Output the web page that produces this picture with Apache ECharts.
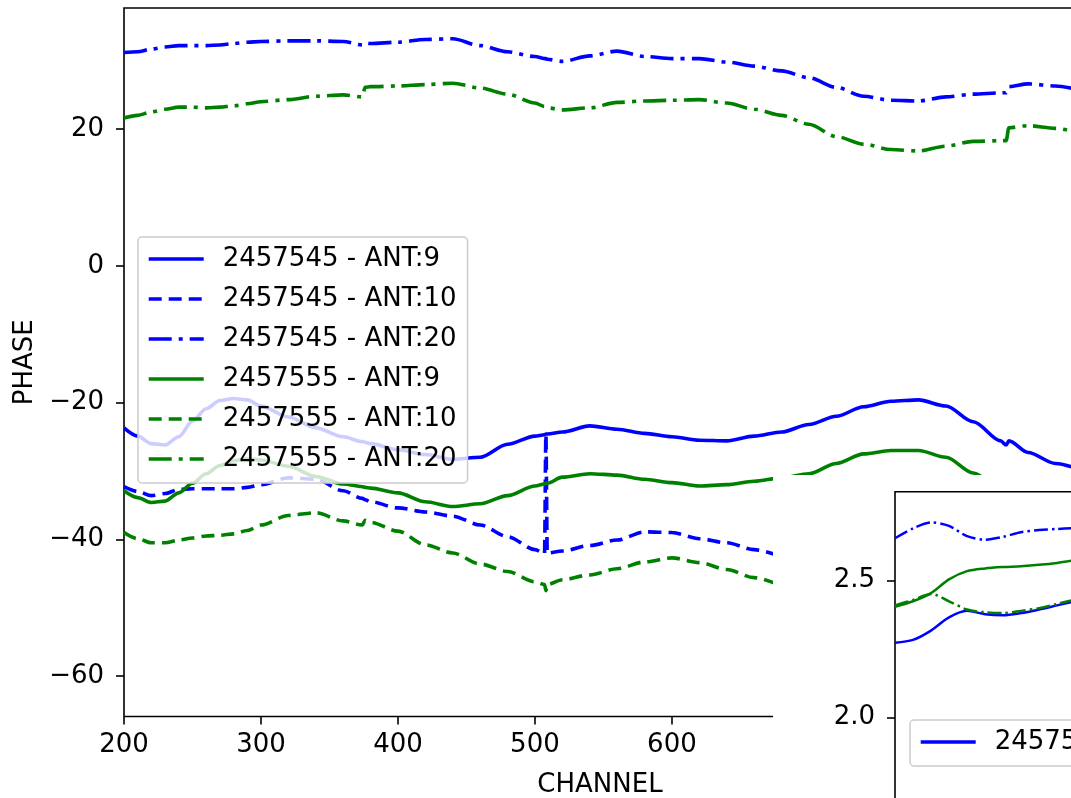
<!DOCTYPE html>
<html><head><meta charset="utf-8">
<script src="https://cdn.jsdelivr.net/npm/echarts@6/dist/echarts.min.js"></script>
<style>html,body{margin:0;padding:0;background:#fff}#c{width:1071px;height:798px}</style>
</head><body><div id="c"></div><script>
// ---- main panel data (channel, phase) ----
const channels = [200,210,220,230,240,250,260,270,280,290,300,320,340,360,374,376,380,400,420,440,460,480,500,507,508,509,520,540,560,580,600,620,640,660,680,700,720,740,760,780,800,820,840,844,846,860,880,900];
const b9  = [-23.7,-24.9,-26.0,-26.2,-25.0,-22.7,-20.9,-19.7,-19.4,-19.6,-20.5,-22.1,-23.7,-25.0,-25.7,-25.8,-26.0,-26.9,-27.6,-28.3,-28.0,-26.1,-24.9,-24.7,-24.6,-24.6,-24.3,-23.4,-23.9,-24.5,-25.0,-25.5,-25.6,-24.9,-24.3,-23.2,-22.0,-20.6,-19.8,-19.6,-20.5,-22.8,-25.6,-26.2,-25.6,-27.3,-28.9,-30.0];
const b10 = [-32.3,-33.0,-33.6,-33.3,-32.7,-32.6,-32.6,-32.6,-32.6,-32.4,-32.0,-31.0,-31.2,-32.9,-34.0,-34.2,-34.5,-35.4,-36.0,-36.6,-37.9,-39.6,-41.5,-42.1,-24.7,-42.0,-41.7,-40.9,-40.1,-38.9,-39.0,-39.9,-40.5,-41.5,-42.5,null,null,null,null,null,null,null,null,null,null,null,null,null];
const b20 = [31.2,31.3,31.7,32.0,32.2,32.2,32.2,32.3,32.5,32.7,32.8,32.9,32.9,32.8,32.3,32.6,32.5,32.7,33.1,33.2,32.2,31.3,30.6,30.3,30.3,30.2,29.9,30.7,31.4,30.6,30.3,30.3,29.8,29.2,28.5,27.5,26.1,24.8,24.2,24.1,24.7,25.1,25.3,25.3,26.2,26.6,26.3,25.6];
const g9  = [-32.9,-33.9,-34.6,-34.4,-33.2,-31.8,-30.4,-29.2,-28.5,-28.2,-28.4,-29.3,-30.8,-31.9,-32.3,-32.4,-32.5,-33.2,-34.5,-35.2,-34.8,-33.6,-32.2,-31.9,-31.8,-31.8,-30.9,-30.4,-30.6,-31.2,-31.7,-32.2,-32.0,-31.5,-31.0,-30.4,-28.9,-27.5,-27.0,-27.0,-28.0,-30.3,-33.5,null,null,null,null,null];
const g10 = [-39.0,-39.9,-40.5,-40.5,-40.1,-39.8,-39.5,-39.4,-39.2,-38.7,-37.9,-36.5,-36.1,-37.3,-37.9,-37.2,-37.5,-38.8,-40.8,-42.0,-43.6,-44.7,-46.2,-46.6,-47.5,-46.6,-45.9,-45.2,-44.3,-43.3,-42.7,-43.4,-44.4,-45.6,-46.8,null,null,null,null,null,null,null,null,null,null,null,null,null];
const g20 = [21.6,22.0,22.5,22.9,23.2,23.2,23.1,23.2,23.4,23.7,24.0,24.3,24.8,25.0,24.7,26.1,26.2,26.3,26.5,26.7,26.0,25.1,23.8,23.3,23.2,23.1,22.8,23.1,23.9,24.1,24.2,24.3,23.8,22.9,22.0,20.7,18.9,17.8,17.0,16.8,17.5,18.2,18.3,18.3,20.2,20.5,20.1,19.3];
const xTicks = [200,300,400,500,600,700,800];
const yTicks = [-60,-40,-20,0,20];
// ---- inset panel data ----
const insetX   = [0,3,6,9,12,15,18,21,24,27,30];
const inB9  = [2.274,2.284,2.318,2.366,2.390,2.378,2.374,2.382,2.395,2.410,2.425];
const inB20 = [2.655,2.691,2.713,2.700,2.663,2.650,2.660,2.677,2.685,2.689,2.692];
const inG9  = [2.405,2.425,2.455,2.505,2.535,2.545,2.550,2.553,2.558,2.565,2.575];
const inG20 = [2.410,2.430,2.452,2.425,2.395,2.385,2.382,2.390,2.400,2.415,2.432];
const insetYTicks = [1.5,2.0,2.5];
const names = ['2457545 - ANT:9','2457545 - ANT:10','2457545 - ANT:20','2457555 - ANT:9','2457555 - ANT:10','2457555 - ANT:20'];

const BLUE='#0000ff', GREEN='#008000';
const DASH=[13,7], DASHDOT=[23,7,4,7];
const FONT='DejaVu Sans', FS=26;
const pairs=(xs,ys)=>xs.map((x,i)=>[x,ys[i]]);
const minus=v=>String(v).replace('-','\u2212');

function mainSeries(name,color,type,vals){
  return {name,type:'line',xAxisIndex:0,yAxisIndex:0,data:pairs(channels,vals),symbol:'none',showSymbol:false,
    smooth:0.3,smoothMonotone:'x',connectNulls:false,z:2,
    lineStyle:{color,width:3.6,type},itemStyle:{color}};
}
function insetSeries(name,color,type,vals){
  return {name,type:'line',xAxisIndex:1,yAxisIndex:1,data:pairs(insetX,vals),symbol:'none',showSymbol:false,
    smooth:0.3,z:60,lineStyle:{color,width:2.5,type},itemStyle:{color}};
}
const legendCommon={orient:'vertical',itemWidth:55,itemHeight:26,itemGap:14,padding:[9,11,11,9],
  backgroundColor:'rgba(255,255,255,0.8)',borderColor:'#cccccc',borderWidth:1.5,borderRadius:4,
  selectedMode:false,itemStyle:{opacity:0,borderWidth:0},lineStyle:{width:3.4},
  textStyle:{fontFamily:FONT,fontSize:FS,color:'#000',padding:[0,0,0,14]},data:names};

const chart=echarts.init(document.getElementById('c'),null,{renderer:'canvas'});
chart.setOption({
  animation:false,
  backgroundColor:'#fff',
  textStyle:{fontFamily:FONT},
  grid:[
    {left:124,top:8,width:952,height:708.5,show:true,borderColor:'#000',borderWidth:1.6,backgroundColor:'transparent',z:0,outerBoundsMode:'none',containLabel:false},
    {left:895,top:491.7,width:600,height:363,show:true,borderColor:'#000',borderWidth:1.6,backgroundColor:'#fff',z:55,outerBoundsMode:'none',containLabel:false}
  ],
  graphic:[{type:'rect',shape:{x:773,y:475,width:400,height:400},style:{fill:'#fff'},z:50,silent:true}],
  xAxis:[
    {gridIndex:0,type:'value',min:200,max:895,name:'CHANNEL',nameLocation:'middle',nameGap:56,
     nameTextStyle:{fontFamily:FONT,fontSize:FS,color:'#000'},
     axisLine:{show:false,onZero:false},splitLine:{show:false},
     axisTick:{show:true,length:8,lineStyle:{color:'#000',width:1.6},customValues:xTicks},
     axisLabel:{fontFamily:FONT,fontSize:FS,color:'#000',margin:16,customValues:xTicks,formatter:minus}},
    {gridIndex:1,type:'value',min:0,max:100,z:56,axisLine:{show:false,onZero:false},splitLine:{show:false},
     axisTick:{show:false},axisLabel:{show:false}}
  ],
  yAxis:[
    {gridIndex:0,type:'value',min:-65.9,max:37.7,name:'PHASE',nameLocation:'middle',nameGap:86,
     nameTextStyle:{fontFamily:FONT,fontSize:FS,color:'#000'},
     axisLine:{show:false,onZero:false},splitLine:{show:false},
     axisTick:{show:true,length:8,lineStyle:{color:'#000',width:1.6},customValues:yTicks},
     axisLabel:{fontFamily:FONT,fontSize:FS,color:'#000',margin:20,customValues:yTicks,formatter:minus}},
    {gridIndex:1,type:'value',min:1.5,max:2.825,z:56,axisLine:{show:false,onZero:false},splitLine:{show:false},
     axisTick:{show:true,length:8,lineStyle:{color:'#000',width:1.6},customValues:insetYTicks},
     axisLabel:{fontFamily:FONT,fontSize:FS,color:'#000',margin:20,customValues:insetYTicks,formatter:v=>Number(v).toFixed(1)}}
  ],
  legend:[
    Object.assign({},legendCommon,{left:138,top:237,z:10}),
    Object.assign({},legendCommon,{left:910,top:720,z:70})
  ],
  series:[
    mainSeries(names[0],BLUE,'solid',b9),
    mainSeries(names[1],BLUE,DASH,b10),
    mainSeries(names[2],BLUE,DASHDOT,b20),
    mainSeries(names[3],GREEN,'solid',g9),
    mainSeries(names[4],GREEN,DASH,g10),
    mainSeries(names[5],GREEN,DASHDOT,g20),
    insetSeries(names[0],BLUE,'solid',inB9),
    insetSeries(names[2],BLUE,[14,4,2.5,4],inB20),
    insetSeries(names[3],GREEN,'solid',inG9),
    insetSeries(names[5],GREEN,[14,4,2.5,4],inG20)
  ]
});
</script></body></html>
